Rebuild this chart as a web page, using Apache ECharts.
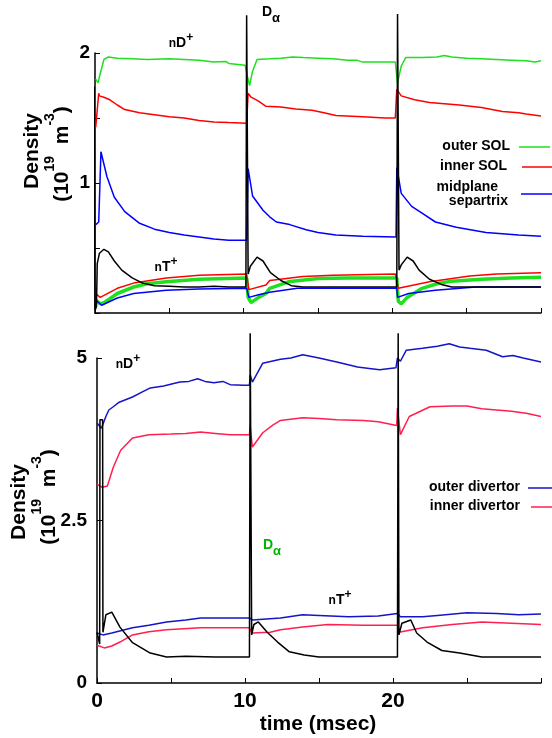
<!DOCTYPE html>
<html>
<head>
<meta charset="utf-8">
<script src="https://cdn.jsdelivr.net/npm/echarts@6/dist/echarts.min.js"></script>
<style>
html,body{margin:0;padding:0;background:#fff;}
#chart{width:552px;height:738px;}
</style>
</head>
<body>
<div id="chart"></div>
<script>
// ---------- tick labels ----------
const topYLabels = [1, 2];
const botYLabels = [0, 2.5, 5];
const botXLabels = [0, 10, 20];

// ---------- TOP PANEL (time msec, density 1e19 m^-3) ----------
const topOuterSOL_D = [[0.05,1.80],[0.2,1.77],[0.35,1.84],[0.6,1.95],[0.9,1.97],[1.5,1.96],[2.5,1.955],[3.5,1.95],[5,1.955],[6,1.95],[7,1.945],[8,1.93],[8.8,1.935],[9,1.92],[10.1,1.905],[10.25,1.82],[10.4,1.75],[10.6,1.86],[10.9,1.95],[11.75,1.955],[12.5,1.96],[13.3,1.97],[14,1.965],[15,1.96],[16,1.955],[17,1.945],[17.6,1.945],[18,1.93],[19,1.93],[20.2,1.93],[20.35,1.77],[20.45,1.76],[20.6,1.9],[20.9,1.965],[22,1.965],[23,1.97],[23.5,1.98],[24,1.97],[25,1.96],[26,1.955],[27,1.95],[28,1.945],[29,1.94],[29.6,1.93],[30,1.94]];
const topInnerSOL_D = [[0.05,1.43],[0.15,1.44],[0.25,1.69],[0.3,1.67],[0.6,1.66],[1,1.64],[1.5,1.6],[2,1.565],[3,1.54],[4,1.525],[5,1.51],[6,1.50],[7,1.48],[8,1.47],[9,1.465],[10.2,1.46],[10.3,1.69],[10.5,1.66],[11,1.63],[11.5,1.59],[12.5,1.585],[13.5,1.57],[14.6,1.56],[15.4,1.54],[16.2,1.52],[18,1.51],[19.5,1.50],[20.2,1.50],[20.3,1.72],[20.6,1.67],[21.5,1.64],[22.5,1.62],[23.5,1.61],[24.5,1.60],[26,1.58],[27.4,1.55],[28.5,1.54],[29,1.53],[30,1.515]];
const topMidSep_D = [[0.05,0.68],[0.25,0.70],[0.4,1.24],[0.8,1.05],[1.3,0.89],[2,0.78],[3,0.69],[4,0.645],[5,0.62],[6,0.60],[7,0.585],[8,0.57],[9,0.56],[10.2,0.56],[10.3,1.11],[10.6,0.9],[11.3,0.79],[11.75,0.74],[12.2,0.70],[13.1,0.68],[14.2,0.64],[15,0.62],[16.2,0.60],[18,0.59],[20.25,0.585],[20.3,1.12],[20.6,0.92],[21.3,0.82],[22.1,0.76],[22.9,0.70],[24.3,0.66],[26.3,0.62],[28.5,0.60],[30,0.59]];
const topDalpha = [[-0.05,1.74],[0.0,0.02],[0.1,0.05],[0.15,0.38],[0.3,0.46],[0.6,0.49],[0.9,0.47],[1.3,0.40],[1.8,0.33],[2.5,0.27],[3.2,0.23],[4,0.21],[5,0.205],[6,0.2],[7,0.2],[8,0.205],[9,0.2],[10.15,0.2],[10.2,2.29],[10.3,0.30],[10.45,0.36],[10.9,0.43],[11.3,0.40],[11.8,0.31],[12.5,0.25],[13.2,0.21],[14,0.2],[16,0.2],[18,0.2],[20.3,0.2],[20.35,2.30],[20.45,0.33],[20.6,0.37],[21.0,0.43],[21.4,0.40],[21.8,0.33],[22.5,0.26],[23.3,0.22],[24,0.2],[26,0.2],[28,0.2],[30,0.2]];
const topOuterSOL_T = [[0.05,0.10],[0.35,0.07],[0.6,0.08],[1,0.11],[1.5,0.15],[2.6,0.20],[3.5,0.225],[4.8,0.24],[7,0.26],[10.2,0.27],[10.3,0.12],[10.5,0.08],[11,0.12],[11.5,0.15],[11.75,0.19],[13,0.24],[15,0.265],[17,0.27],[20.3,0.27],[20.4,0.09],[20.6,0.07],[21,0.12],[22,0.19],[23,0.225],[24,0.245],[26,0.26],[28,0.27],[30,0.275]];
const topInnerSOL_T = [[0.05,0.15],[0.35,0.12],[1.5,0.19],[2.6,0.23],[4.8,0.27],[7,0.29],[10.2,0.30],[10.35,0.18],[11.5,0.215],[11.75,0.25],[14,0.28],[16,0.29],[20.2,0.30],[20.4,0.19],[22.5,0.24],[25.2,0.285],[27,0.30],[30,0.31]];
const topMidSep_T = [[0.05,0.10],[0.45,0.06],[1.5,0.115],[2.6,0.15],[4.8,0.175],[7,0.185],[10.2,0.19],[10.35,0.12],[11,0.14],[11.75,0.16],[13.6,0.19],[20.3,0.19],[20.35,0.12],[21.1,0.15],[22.9,0.175],[25.6,0.2],[30,0.2]];

// ---------- BOTTOM PANEL ----------
const botOuterDiv_D = [[0,4.0],[0.3,3.92],[0.6,4.1],[0.8,4.2],[1.1,4.25],[1.5,4.32],[2.4,4.4],[3,4.47],[3.6,4.54],[4.5,4.57],[5.6,4.63],[6.2,4.64],[6.8,4.68],[7.3,4.64],[7.9,4.62],[8.5,4.64],[9,4.59],[9.9,4.58],[10.3,4.58],[10.35,4.74],[10.5,4.63],[11.2,4.92],[12.4,4.98],[13.1,5.0],[13.9,5.05],[15,5.0],[16.2,4.94],[17.6,4.86],[18.4,4.84],[19.1,4.82],[20.2,4.85],[20.3,5.0],[20.5,4.95],[20.9,5.12],[22,5.15],[23,5.18],[23.8,5.22],[24.5,5.17],[25.2,5.15],[26.3,5.12],[27.4,5.02],[28.1,5.04],[28.8,5.0],[30,4.94]];
const botInnerDiv_D = [[0,3.06],[0.35,3.01],[0.7,3.03],[1.1,3.32],[1.6,3.58],[2.4,3.77],[3.5,3.82],[5,3.83],[6,3.84],[7,3.86],[8,3.84],[9,3.82],[10.3,3.82],[10.35,3.95],[10.5,3.63],[11.2,3.85],[11.9,3.97],[12.4,4.04],[13.9,4.08],[15,4.07],[16.2,4.05],[18,4.04],[19,4.02],[20.25,3.96],[20.3,4.23],[20.5,3.82],[21.1,4.1],[22.5,4.25],[24,4.26],[25,4.26],[26,4.22],[27,4.2],[28,4.18],[29,4.15],[30,4.1]];
const botDalpha = [[0.0,0.78],[0.18,0.6],[0.2,4.05],[0.38,4.05],[0.4,0.78],[0.6,1.05],[1.0,1.09],[1.55,0.86],[2.4,0.62],[3.6,0.46],[4.7,0.40],[6,0.41],[8,0.40],[10.3,0.40],[10.35,5.38],[10.45,0.74],[10.6,0.90],[10.9,0.94],[11.5,0.78],[12.2,0.63],[13,0.48],[14,0.43],[15,0.40],[17,0.40],[20.3,0.40],[20.35,5.38],[20.4,0.74],[20.6,0.92],[21.2,0.97],[21.6,0.77],[22.3,0.63],[23.3,0.50],[24.5,0.46],[26,0.40],[28,0.40],[30,0.40]];
const botOuterDiv_T = [[0,0.77],[0.4,0.74],[1,0.77],[2.4,0.85],[3.5,0.89],[4.7,0.94],[6,0.97],[7,1.0],[10.3,1.0],[10.35,1.03],[10.5,0.97],[12.4,1.0],[13.9,1.05],[15,1.04],[17,1.02],[19,1.03],[20.3,1.07],[20.5,1.02],[22,1.02],[23,1.04],[25,1.08],[27,1.07],[28.5,1.05],[30,1.06]];
const botInnerDiv_T = [[0,0.58],[0.5,0.54],[1,0.57],[1.55,0.63],[2.4,0.74],[3.5,0.79],[4.7,0.82],[7,0.85],[10.3,0.85],[10.45,0.77],[11.7,0.78],[12.4,0.82],[13.9,0.86],[15.6,0.90],[18,0.89],[20.3,0.89],[20.4,0.78],[22,0.85],[24,0.90],[26,0.94],[28,0.92],[30,0.90]];

// ---------- chart ----------
const FONT = '"Liberation Sans", Arial, Helvetica, sans-serif';
const GREEN = '#1ee01e', RED = '#ff0000', BLUE = '#0000ff';
const BBLUE = '#1414c8', BRED = '#ff2050';

function ln(name, data, color, width, xi, z) {
  return { name, type: 'line', data, xAxisIndex: xi, yAxisIndex: xi, symbol: 'none',
    clip: false, z: z || 2, lineStyle: { color, width: width || 1.5 }, itemStyle: { color } };
}
function xAx(gi, showLabels) {
  return { type: 'value', gridIndex: gi, min: 0, max: 30, interval: 5,
    axisLine: { show: true, lineStyle: { color: '#000', width: 1.5 } },
    axisTick: { show: true, inside: true, length: 5, lineStyle: { color: '#000', width: 1 } },
    splitLine: { show: false },
    axisLabel: { show: showLabels, margin: 8, color: '#000', fontFamily: FONT, fontWeight: 'bold', fontSize: 21,
      formatter: v => botXLabels.indexOf(v) >= 0 ? String(v) : '' } };
}
function yAx(gi, max, interval, labels, margin) {
  return { type: 'value', gridIndex: gi, min: 0, max, interval,
    axisLine: { show: true, lineStyle: { color: '#000', width: 1.5 } },
    axisTick: { show: true, inside: true, length: 5, lineStyle: { color: '#000', width: 1 } },
    splitLine: { show: false },
    axisLabel: { margin, color: '#000', fontFamily: FONT, fontWeight: 'bold', fontSize: 19,
      formatter: v => labels.indexOf(v) >= 0 ? String(v) : '' } };
}
function txt(x, y, text, rich, opts) {
  return Object.assign({ type: 'text', x, y, silent: true, z: 10,
    style: Object.assign({ text, rich, fill: '#000', align: 'center', verticalAlign: 'middle', font: 'bold 14px ' + FONT }, opts && opts.style) },
    opts && opts.el);
}
function seg(x1, y1, x2, color) {
  return { type: 'line', silent: true, z: 10, shape: { x1, y1, x2, y2: y1 }, style: { stroke: color, lineWidth: 1.5 } };
}
const base = (fs) => ({ fontFamily: FONT, fontWeight: 'bold', fontSize: fs, fill: '#000' });
const ionRich = {
  n: Object.assign(base(12), { verticalAlign: 'bottom', lineHeight: 18 }),
  d: Object.assign(base(14), { verticalAlign: 'bottom', lineHeight: 18 }),
  s: Object.assign(base(12), { verticalAlign: 'top', lineHeight: 18 })
};
const daRich = (col) => ({
  d: Object.assign(base(14), { verticalAlign: 'top', lineHeight: 20, fill: col }),
  a: Object.assign(base(13), { verticalAlign: 'bottom', lineHeight: 20, fill: col })
});
const titleRich = {
  m: Object.assign(base(21), { verticalAlign: 'bottom', lineHeight: 30 }),
  s: Object.assign(base(14), { verticalAlign: 'top', lineHeight: 30 })
};
const densTitle = '{m|(10}{s|19}{m|  m}{s|-3}{m|)}';
const legFont = 'bold 14px ' + FONT;

const chart = echarts.init(document.getElementById('chart'), null, { renderer: 'canvas' });
chart.setOption({
  animation: false,
  backgroundColor: '#fff',
  grid: [
    { left: 95, width: 446, top: 53, height: 260 },
    { left: 97, width: 444, top: 358, height: 325 }
  ],
  xAxis: [xAx(0, false), xAx(1, true)],
  yAxis: [yAx(0, 2, 0.5, topYLabels, 5), yAx(1, 5, 2.5, botYLabels, 10)],
  series: [
    ln('outer SOL', topOuterSOL_D, GREEN, 1.5, 0),
    ln('inner SOL', topInnerSOL_D, RED, 1.5, 0),
    ln('midplane separtrix', topMidSep_D, BLUE, 1.5, 0),
    ln('outer SOL T', topOuterSOL_T, GREEN, 3.5, 0),
    ln('inner SOL T', topInnerSOL_T, RED, 1.5, 0),
    ln('midplane T', topMidSep_T, BLUE, 1.5, 0),
    ln('D alpha top', topDalpha, '#000', 1.5, 0, 5),
    ln('outer divertor', botOuterDiv_D, BBLUE, 1.5, 1),
    ln('inner divertor', botInnerDiv_D, BRED, 1.5, 1),
    ln('outer divertor T', botOuterDiv_T, BBLUE, 1.5, 1),
    ln('inner divertor T', botInnerDiv_T, BRED, 1.5, 1),
    ln('D alpha bottom', botDalpha, '#000', 1.5, 1, 5)
  ],
  graphic: [
    // y titles
    txt(32, 151, 'Density', null, { style: { font: 'bold 21px ' + FONT }, el: { rotation: Math.PI / 2 } }),
    txt(58, 154, densTitle, titleRich, { el: { rotation: Math.PI / 2 } }),
    txt(19, 502, 'Density', null, { style: { font: 'bold 21px ' + FONT }, el: { rotation: Math.PI / 2 } }),
    txt(45, 497, densTitle, titleRich, { el: { rotation: Math.PI / 2 } }),
    // x title
    txt(318, 724, 'time (msec)', null, { style: { font: 'bold 21px ' + FONT } }),
    // annotations
    txt(181, 41, '{n|n}{d|D}{s|+}', ionRich),
    txt(271, 15, '{d|D}{a|α}', daRich('#000')),
    txt(166, 265, '{n|n}{d|T}{s|+}', ionRich),
    txt(128, 362, '{n|n}{d|D}{s|+}', ionRich),
    txt(272, 548, '{d|D}{a|α}', daRich('#00b400')),
    txt(340, 598, '{n|n}{d|T}{s|+}', ionRich),
    // top legend
    txt(510, 146, 'outer SOL', null, { style: { align: 'right', font: legFont } }),
    seg(519, 147, 550, GREEN),
    txt(507, 166, 'inner SOL', null, { style: { align: 'right', font: legFont } }),
    seg(522, 167, 552, RED),
    txt(498, 187, 'midplane', null, { style: { align: 'right', font: legFont } }),
    txt(508, 201, 'separtrix', null, { style: { align: 'right', font: legFont } }),
    seg(521, 194, 552, BLUE),
    // bottom legend
    txt(520, 487, 'outer divertor', null, { style: { align: 'right', font: legFont } }),
    seg(528, 488, 552, BBLUE),
    txt(520, 506, 'inner divertor', null, { style: { align: 'right', font: legFont } }),
    seg(531, 507, 552, BRED)
  ]
});
</script>
</body>
</html>
